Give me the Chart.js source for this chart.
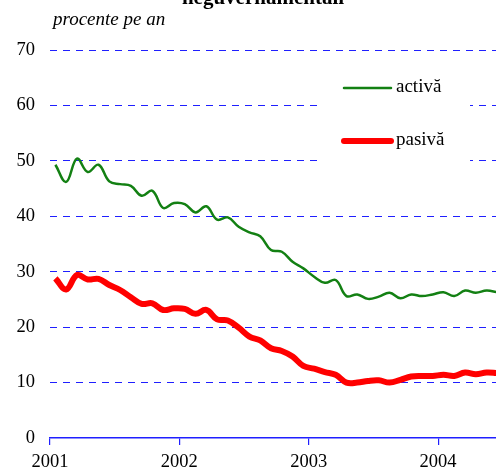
<!DOCTYPE html>
<html>
<head>
<meta charset="utf-8">
<script src="https://cdn.jsdelivr.net/npm/chart.js@4"></script>
<style>
html,body{margin:0;padding:0;background:#fff;overflow:hidden;}
#wrap{position:relative;width:496px;height:469px;}
</style>
</head>
<body>
<div id="wrap"><canvas id="c" width="496" height="469"></canvas></div>
<script>
const titleText = "neguvernamentali";
const yAxisTitle = "procente pe an";
const yearLabels = ["2001", "2002", "2003", "2004"];
const months = [
  "2001-01","2001-02","2001-03","2001-04","2001-05","2001-06","2001-07","2001-08","2001-09","2001-10","2001-11","2001-12",
  "2002-01","2002-02","2002-03","2002-04","2002-05","2002-06","2002-07","2002-08","2002-09","2002-10","2002-11","2002-12",
  "2003-01","2003-02","2003-03","2003-04","2003-05","2003-06","2003-07","2003-08","2003-09","2003-10","2003-11","2003-12",
  "2004-01","2004-02","2004-03","2004-04","2004-05","2004-06"
];
const activa = [49.3,46.2,50.4,48.0,49.3,46.3,45.8,45.5,43.7,44.6,41.5,42.4,
  42.2,40.7,41.8,39.4,39.8,38.1,37.1,36.4,33.9,33.6,31.8,30.6,
  29.1,28.0,28.5,25.6,25.9,25.1,25.5,26.2,25.2,25.9,25.6,25.9,
  26.3,25.6,26.6,26.2,26.6,26.3];
const pasiva = [28.8,26.8,29.4,28.6,28.7,27.6,26.7,25.4,24.2,24.3,23.1,23.4,
  23.3,22.4,23.1,21.4,21.2,19.9,18.3,17.6,16.2,15.7,14.7,13.0,
  12.5,11.9,11.4,10.0,10.0,10.3,10.4,10.0,10.5,11.1,11.2,11.2,
  11.4,11.2,11.8,11.5,11.8,11.7];
const seriesNames = ["activă", "pasivă"];

const FONT = "'Liberation Serif', 'Times New Roman', serif";
const GRID_BLUE = "#1f1fff";

const overlay = {
  id: "overlay",
  beforeDatasetsDraw(chart) {
    const ctx = chart.ctx;
    ctx.save();
    ctx.fillStyle = "#fff";
    ctx.fillRect(317, 68, 153, 98);
    const items = chart.data.datasets;
    const ys = [88, 141];
    items.forEach((ds, i) => {
      ctx.strokeStyle = ds.borderColor;
      ctx.lineWidth = ds.borderWidth;
      ctx.lineCap = "round";
      ctx.beginPath();
      ctx.moveTo(344, ys[i]);
      ctx.lineTo(391, ys[i]);
      ctx.stroke();
      ctx.fillStyle = "#000";
      ctx.font = "19px " + FONT;
      ctx.textBaseline = "middle";
      ctx.textAlign = "left";
      ctx.fillText(ds.label, 396, ys[i] - 1);
    });
    ctx.restore();
  },
  afterDraw(chart) {
    const ctx = chart.ctx;
    ctx.save();
    ctx.fillStyle = "#000";
    ctx.font = "bold 21px " + FONT;
    ctx.textAlign = "center";
    ctx.textBaseline = "alphabetic";
    ctx.fillText(titleText, 263, 4);
    ctx.font = "italic 19px " + FONT;
    ctx.textAlign = "left";
    ctx.fillText(yAxisTitle, 53, 25);
    ctx.restore();
  }
};

new Chart(document.getElementById("c"), {
  type: "line",
  data: {
    datasets: [
      { label: seriesNames[0], data: activa.map((v, i) => ({x: i, y: v})),
        borderColor: "#138013", borderWidth: 2.5, pointRadius: 0, tension: 0.4, fill: false },
      { label: seriesNames[1], data: pasiva.map((v, i) => ({x: i, y: v})),
        borderColor: "#ff0000", borderWidth: 6, pointRadius: 0, tension: 0.4, fill: false }
    ]
  },
  options: {
    responsive: false,
    animation: false,
    devicePixelRatio: 1,
    layout: { padding: { top: 50, left: 0, right: 0, bottom: 0 } },
    plugins: { legend: { display: false }, tooltip: { enabled: false }, title: { display: false } },
    scales: {
      x: {
        type: "linear",
        min: -0.5,
        max: 40.87,
        afterFit(s) { s.height = 31; },
        afterBuildTicks(s) {
          s.ticks = yearLabels.map((_, i) => ({ value: -0.5 + 12 * i }));
        },
        ticks: {
          autoSkip: false,
          maxRotation: 0,
          padding: 6,
          color: "#000",
          font: { family: FONT, size: 18.5 },
          callback(v) {
            const idx = Math.round((v + 0.5) / 12);
            return yearLabels[idx];
          }
        },
        grid: { drawOnChartArea: false, drawTicks: true, tickLength: 7, color: GRID_BLUE, lineWidth: 1.2 },
        border: { display: true, color: GRID_BLUE, width: 1.5 }
      },
      y: {
        min: 0,
        max: 70,
        afterFit(s) { s.width = 50; },
        ticks: {
          stepSize: 10,
          padding: 15,
          color: "#000",
          font: { family: FONT, size: 18.5 }
        },
        grid: {
          drawTicks: false,
          color: (c) => c.tick && c.tick.value === 0 ? "rgba(0,0,0,0)" : GRID_BLUE,
          lineWidth: 1
        },
        border: { display: false, dash: [7, 6] }
      }
    }
  },
  plugins: [overlay]
});
</script>
</body>
</html>
